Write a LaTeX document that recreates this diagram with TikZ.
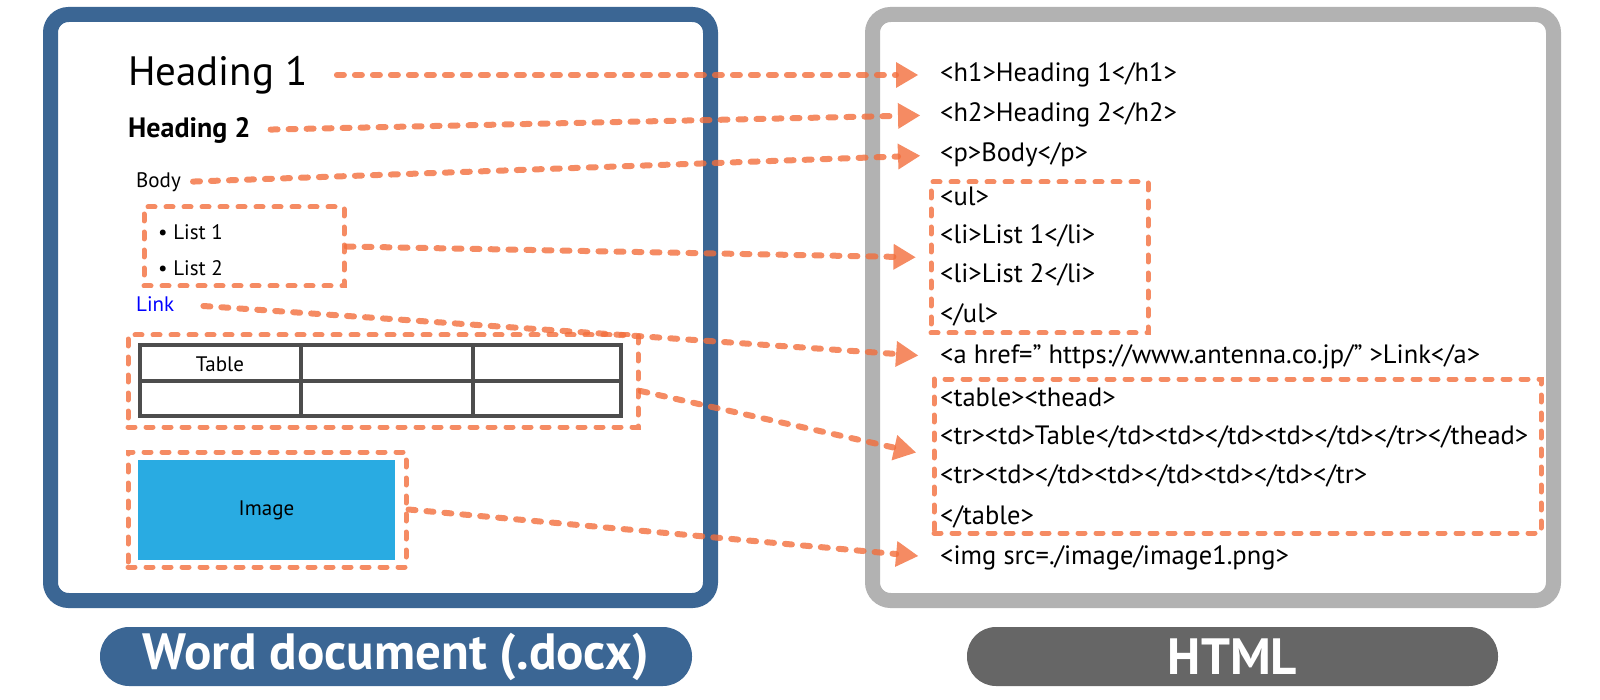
\documentclass[tikz,border=0pt]{standalone}
\usepackage{fontspec}
\setmainfont{PT Sans}
\usetikzlibrary{arrows.meta,positioning}
\definecolor{wordblue}{RGB}{59,102,148}
\definecolor{htmlgray}{RGB}{178,178,178}
\definecolor{pillgray}{RGB}{102,102,102}
\definecolor{hl}{RGB}{242,110,60}
\definecolor{imgblue}{RGB}{41,171,226}
\definecolor{gridgray}{RGB}{77,77,77}
\definecolor{linkblue}{RGB}{0,0,255}
\begin{document}
\begin{tikzpicture}
	[x=1pt,y=-1pt,
	frame/.style={draw,line width=15pt,rounded corners=18pt,inner sep=0pt},
	pill/.style={text=white,rounded corners=29pt,inner sep=0pt,font=\bfseries\fontsize{51}{58}\selectfont},
	txt/.style={anchor=west,inner sep=0pt,font=\fontsize{21}{25}\selectfont},
	code/.style={anchor=west,inner sep=0pt,font=\fontsize{26.5}{30}\selectfont},
	dashbox/.style={draw=hl,line width=5pt,dash pattern=on 7pt off 11pt,line cap=round,draw opacity=.8,inner sep=0pt},
	link/.style={draw=hl,line width=6pt,dash pattern=on 7pt off 11pt,line cap=round,draw opacity=.8,fill opacity=.8,-{Triangle[length=22pt,width=26pt,line width=0pt,fill=hl]}}]
	\useasboundingbox (0,0) rectangle (1600,700);
	% the two panels
	\node[frame,draw=wordblue,minimum width=660pt,minimum height=586pt,name=wordbox] at (380.5,307.5) {};
	\node[frame,draw=htmlgray,minimum width=681pt,minimum height=586pt,name=htmlbox] at (1213,307.5) {};
	\node[pill,fill=wordblue,minimum width=592pt,minimum height=59pt,name=wordlabel] at (396,656.5) {Word document (.docx)};
	\node[pill,fill=pillgray,minimum width=531pt,minimum height=59pt,name=htmllabel] at (1232.5,656.5) {HTML};
	% word side
	\node[txt,font=\fontsize{41}{48}\selectfont,name=h1l] at (128,75) {Heading 1};
	\node[txt,font=\bfseries\fontsize{28}{32}\selectfont,name=h2l] at (128,130) {Heading 2};
	\node[txt,name=bodyl] at (136,182) {Body};
	\node[txt,name=li1l] at (158,232) {•\ List 1};
	\node[txt,name=li2l] at (158,268) {•\ List 2};
	\node[dashbox,minimum width=200pt,minimum height=79pt,name=listl] at (244,246.5) {};
	\node[txt,text=linkblue,name=linkl] at (136,304) {Link};
	\draw[gridgray,line width=4pt] (140,345) rectangle (621,416);
	\draw[gridgray,line width=4pt] (140,381) -- (621,381) (301,345) -- (301,416) (473,345) -- (473,416);
	\node[txt,anchor=center,name=cell] at (220,364) {Table};
	\node[dashbox,minimum width=510pt,minimum height=92pt,name=tabl] at (383,381) {};
	\node[fill=imgblue,minimum width=257pt,minimum height=100pt,inner sep=0pt,font=\fontsize{21}{25}\selectfont,name=imgl] at (266.5,510) {Image};
	\node[dashbox,minimum width=278pt,minimum height=115pt,name=imgbox] at (267,509.5) {};
	% html side
	\node[code,name=h1r] at (940,75) {<h1>Heading 1</h1>};
	\node[code,name=h2r] at (940,115) {<h2>Heading 2</h2>};
	\node[code,name=pr] at (940,155) {<p>Body</p>};
	\node[code,name=ulo] at (940,196) {<ul>};
	\node[code,name=li1r] at (940,236) {<li>List 1</li>};
	\node[code,name=li2r] at (940,275) {<li>List 2</li>};
	\node[code,name=ulc] at (940,315) {</ul>};
	\node[dashbox,minimum width=217pt,minimum height=151pt,name=ulbox] at (1039.5,257.5) {};
	\node[code,name=ar] at (940,357) {<a href=”\ https://www.antenna.co.jp/”\ >Link</a>};
	\node[code,name=t1] at (940,397) {<table><thead>};
	\node[code,name=t2] at (940,437) {<tr><td>Table</td><td></td><td></td></tr></thead>};
	\node[code,name=t3] at (940,476) {<tr><td></td><td></td><td></td></tr>};
	\node[code,name=t4] at (940,517) {</table>};
	\node[dashbox,minimum width=607pt,minimum height=154pt,name=tabbox] at (1237.5,456) {};
	\node[code,name=imgr] at (940,558) {<img src=./image/image1.png>};
	% connectors
	\draw[link,shorten <=29pt,shorten >=22pt] (h1l.east) -- (h1r.west);
	\draw[link,shorten <=20pt,shorten >=20pt] (h2l.east) -- (h2r.west);
	\draw[link,shorten <=12pt,shorten >=20pt] (bodyl.east) -- (pr.west);
	\draw[link,shorten >=13pt] (listl.east) -- (ulbox.west);
	\draw[link,shorten <=29pt,shorten >=22pt] (linkl.east) -- (ar.west);
	\draw[link,shorten >=16pt] ([yshift=-10pt]tabl.east) -- (tabbox.west);
	\draw[link,shorten >=22pt] (imgbox.east) -- (imgr.west);
\end{tikzpicture}
\end{document}
